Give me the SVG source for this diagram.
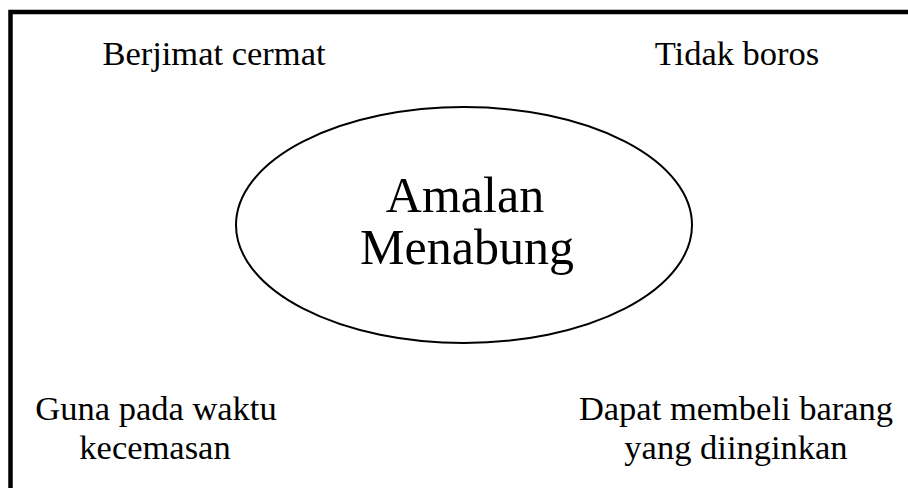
<svg xmlns="http://www.w3.org/2000/svg" width="908" height="488" viewBox="0 0 908 488">
<style>
.t{font-family:"Liberation Serif","Times New Roman",serif;fill:#000;text-anchor:middle}
.s{font-size:34.5px}
.b{font-size:50px}
</style>
<rect x="0" y="0" width="908" height="488" fill="#fff"/>
<rect x="10.5" y="12" width="920" height="500" fill="none" stroke="#000" stroke-width="4.5"/>
<g id="center">
<ellipse cx="464" cy="225" rx="228" ry="118" fill="none" stroke="#000" stroke-width="2"/>
<text class="t b" x="465" y="212">Amalan</text>
<text class="t b" x="467" y="264">Menabung</text>
</g>
<g id="n1"><text class="t s" x="214" y="65">Berjimat cermat</text></g>
<g id="n2"><text class="t s" x="737" y="65">Tidak boros</text></g>
<g id="n3"><text class="t s" x="156" y="420">Guna pada waktu</text><text class="t s" x="155" y="459">kecemasan</text></g>
<g id="n4"><text class="t s" x="736" y="420">Dapat membeli barang</text><text class="t s" x="736" y="459">yang diinginkan</text></g>
<g id="connectors"></g>
</svg>
